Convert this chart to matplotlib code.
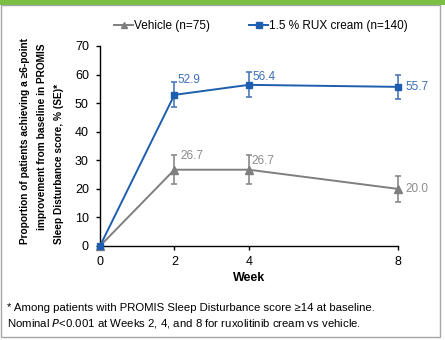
import matplotlib
matplotlib.use("Agg")
import matplotlib.pyplot as plt
from matplotlib.lines import Line2D
from matplotlib.patches import Rectangle

plt.rcParams['font.family'] = ['Liberation Sans', 'DejaVu Sans']

weeks = [0, 2, 4, 8]
vehicle = [0, 26.7, 26.7, 20.0]
vehicle_se = [0, 5.1, 5.1, 4.6]
rux = [0, 52.9, 56.4, 55.7]
rux_se = [0, 4.4, 4.4, 4.3]
vehicle_name = "Vehicle (n=75)"
rux_name = "1.5 % RUX cream (n=140)"
ylabel_lines = ["Proportion of patients achieving a \u22656-point",
                "improvement from baseline in PROMIS",
                "Sleep Disturbance score, % (SE)*"]
footnote_1 = "* Among patients with PROMIS Sleep Disturbance score \u226514 at baseline."
footnote_2 = "Nominal $\\it{P}$<0.001 at Weeks 2, 4, and 8 for ruxolitinib cream vs vehicle."

BLUE = "#1d5eae"
BLUE_TXT = "#3e6fb8"
GREY = "#7f7f7f"
GREY_TXT = "#8c8c8c"

W, H = 445, 340
fig = plt.figure(figsize=(W / 100, H / 100), dpi=100)

# frame and green header band
fig.patches.append(Rectangle((1 / W, 3 / H), 439 / W, 332 / H, transform=fig.transFigure,
                             fill=False, edgecolor="#a6a6a6", linewidth=1.0))
fig.patches.append(Rectangle((0, 1 - 5 / H), 1, 5 / H, transform=fig.transFigure,
                             facecolor="#7bbf44", edgecolor="none"))

ax = fig.add_axes([100 / W, 1 - 246 / H, 297.6 / W, 200 / H])
ax.set_xlim(0, 8)
ax.set_ylim(0, 70)
ax.set_xticks(weeks)
ax.set_yticks(range(0, 71, 10))
for s in ("top", "right"):
    ax.spines[s].set_visible(False)
for s in ("left", "bottom"):
    ax.spines[s].set_linewidth(1.0)
    ax.spines[s].set_clip_on(False)
ax.tick_params(axis="y", direction="out", length=3, width=1, pad=5, labelsize=9)
ax.tick_params(axis="x", direction="out", length=3, width=1, pad=4, labelsize=9)
ax.set_xlabel("Week", fontsize=9, fontweight="bold", labelpad=3)

ax.errorbar(weeks[1:], vehicle[1:], yerr=vehicle_se[1:], fmt="none", ecolor="#8a8a8a",
            elinewidth=1.2, capsize=2.3, capthick=1.2, clip_on=False, zorder=2)
ax.errorbar(weeks[1:], rux[1:], yerr=rux_se[1:], fmt="none", ecolor="#4a78b8",
            elinewidth=1.2, capsize=2.3, capthick=1.2, clip_on=False, zorder=2)
ax.plot(weeks, vehicle, color=GREY, lw=1.4, marker="^", ms=5.5, clip_on=False, zorder=3)
ax.plot(weeks, rux, color=BLUE, lw=1.4, marker="s", ms=5, clip_on=False, zorder=4)

# value labels
vehicle_offsets = [None, (4, 10), (2, 6), (6, 0)]
rux_offsets = [None, (2, 11), (3, 6), (6, 0)]
for x, y, off in zip(weeks, vehicle, vehicle_offsets):
    if off:
        ax.annotate(f"{y:.1f}", (x, y), xytext=off, textcoords="offset points",
                    color=GREY_TXT, fontsize=8.5, va="center", ha="left")
for x, y, off in zip(weeks, rux, rux_offsets):
    if off:
        ax.annotate(f"{y:.1f}", (x, y), xytext=off, textcoords="offset points",
                    color=BLUE_TXT, fontsize=8.5, va="center", ha="left")

# legend
handles = [Line2D([], [], color=GREY, lw=1.4, marker="^", ms=5),
           Line2D([], [], color=BLUE, lw=1.4, marker="s", ms=4.5)]
fig.legend(handles, [vehicle_name, rux_name], loc="center", ncol=2,
           bbox_to_anchor=(261 / W, 1 - 26 / H), frameon=False, fontsize=8.5,
           handlelength=1.6, handletextpad=0.1, columnspacing=3.3)

# y-axis title, three bold lines
for xpix, ypix, txt in [(25, 141, ylabel_lines[0]), (42, 137, ylabel_lines[1]),
                        (59, 164, ylabel_lines[2])]:
    fig.text(xpix / W, 1 - ypix / H, txt, rotation=90, ha="center", va="center",
             fontsize=7.3, fontweight="bold")

fig.text(7 / W, 1 - 308 / H, footnote_1, ha="left", va="center", fontsize=8.2)
fig.text(7 / W, 1 - 324 / H, footnote_2, ha="left", va="center", fontsize=8.2)

fig.savefig("out.png", dpi=100)
